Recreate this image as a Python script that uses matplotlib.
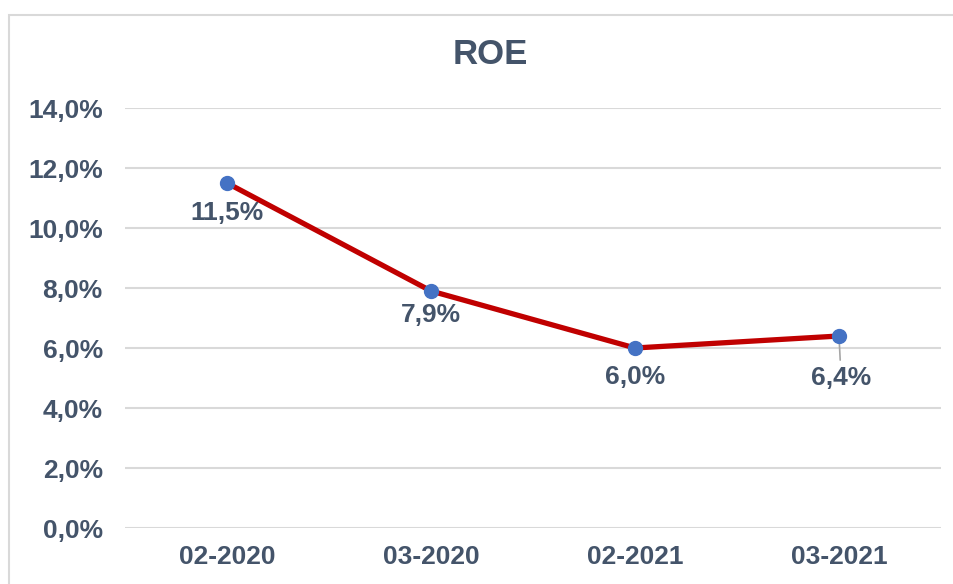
import matplotlib.pyplot as plt
from matplotlib.patches import Rectangle

# data
periods = ["02-2020", "03-2020", "02-2021", "03-2021"]
roe = [11.5, 7.9, 6.0, 6.4]
label_offsets = [21.5, 17.5, 21, 30]   # label distance below point (pt)

TEXT = '#44546A'
plt.rcParams['font.family'] = ['Liberation Sans', 'DejaVu Sans']

fig = plt.figure(figsize=(9.54, 5.84), dpi=100)
ax = fig.add_axes([125/954, 1 - 528/584, (941 - 125)/954, 420/584])

# outer chart frame
fig.patches.append(Rectangle((9/954, -0.1), 1.2, 1 - 15/584 + 0.1, transform=fig.transFigure,
                             fill=False, ec='#D9D9D9', lw=1.5))

x = list(range(len(periods)))
ax.plot(x, roe, color='#C00000', lw=3.8, solid_capstyle='round', zorder=3)
ax.plot(x, roe, 'o', color='#4472C4', ms=10, zorder=4)

FS = 19
for i, v in enumerate(roe):
    txt = f"{v:.1f}%".replace('.', ',')
    if i == 3:
        ax.annotate(txt, (i, v), xytext=(1.5, -label_offsets[i]), textcoords='offset points',
                    ha='center', va='center', fontsize=FS, fontweight='bold', color=TEXT,
                    arrowprops=dict(arrowstyle='-', color='#A6A6A6', lw=1.2,
                                    shrinkA=2, shrinkB=6), zorder=2)
    else:
        ax.annotate(txt, (i, v), xytext=(0, -label_offsets[i]), textcoords='offset points',
                    ha='center', va='center', fontsize=FS, fontweight='bold', color=TEXT)

ax.set_xlim(-0.5, 3.5)
ax.set_ylim(0, 14)
yt = [0, 2, 4, 6, 8, 10, 12, 14]
ax.set_yticks(yt)
ax.set_yticklabels([f"{t:.1f}%".replace('.', ',') for t in yt])
ax.set_xticks(x)
ax.set_xticklabels(periods)
ax.tick_params(length=0, labelsize=FS, labelcolor=TEXT, pad=16)
ax.tick_params(axis='x', pad=12)
for lab in ax.get_xticklabels() + ax.get_yticklabels():
    lab.set_fontweight('bold')

ax.grid(axis='y', color='#D9D9D9', lw=1.5)
ax.set_axisbelow(True)
for s in ax.spines.values():
    s.set_visible(False)

fig.text(490/954, 1 - 55/584, "ROE", ha='center', va='center', fontsize=25,
         fontweight='bold', color=TEXT)

fig.savefig('out.png', dpi=100)
